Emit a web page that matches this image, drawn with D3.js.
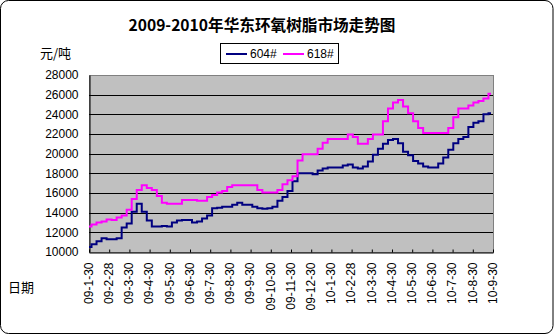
<!DOCTYPE html>
<html><head><meta charset="utf-8">
<script src="https://cdn.jsdelivr.net/npm/d3@7"></script>
<style>
body{margin:0;background:#fff;}
svg{display:block;}
text{font-family:"Liberation Sans","Noto Sans CJK SC",sans-serif;}
</style></head><body>
<svg id="c" width="554" height="335"></svg>
<script>
const title = "2009-2010年华东环氧树脂市场走势图";
const tickLabels = ["09-1-30","09-2-28","09-3-30","09-4-30","09-5-30","09-6-30","09-7-30","09-8-30","09-9-30","09-10-30","09-11-30","09-12-30","10-1-30","10-2-28","10-3-30","10-4-30","10-5-30","10-6-30","10-7-30","10-8-30","10-9-30"];
const yTicks = [10000,12000,14000,16000,18000,20000,22000,24000,26000,28000];
const seriesNames = ["604#","618#"];
// values every quarter month from 09-1-30 to 10-9-30
const s604 = [10500,10800,11100,11400,11300,11300,11400,12500,12900,14100,
  14900,14100,13200,12600,12600,12650,12600,13000,13200,13250,
  13250,13000,13100,13400,13700,14450,14500,14600,14600,14800,
  15000,14800,14800,14600,14450,14400,14450,14600,15200,15600,
  16200,17200,18000,18000,18000,17900,18300,18500,18600,18600,
  18600,18800,18900,18600,18500,18700,19200,19900,20500,21000,
  21400,21500,21050,20200,19850,19250,19000,18700,18600,18600,
  19000,19600,20400,21050,21500,21700,22700,23150,23300,24000,24100];
const s618 = [12600,12800,13000,13100,13300,13250,13500,13700,14300,15400,
  16300,16800,16500,16300,15700,15000,14900,14900,14900,15300,
  15300,15300,15200,15200,15600,15800,16050,16200,16600,16800,
  16800,16800,16800,16800,16300,16050,16050,16050,16300,16900,
  17300,17700,19300,19950,19950,19950,20500,21100,21500,21500,
  21500,21500,21950,21700,21000,21000,21500,21950,21950,23300,
  24600,25200,25450,24800,24100,23300,22600,22100,22100,22100,
  22100,22100,22600,23700,24600,24600,24900,25200,25350,25600,26100];
const colors = ["#000080","#ff00ff"];

const svg = d3.select("#c");
const L = 89, R = 493, T = 75, B = 252;
const x = d3.scaleLinear().domain([0, tickLabels.length - 1]).range([L, R]);
const y = d3.scaleLinear().domain([10000, 28000]).range([B, T]);

// outer frame
svg.append("rect").attr("x",0.5).attr("y",0.5).attr("width",552.5).attr("height",333)
  .attr("rx",8).attr("fill","#fff").attr("stroke","#000").attr("stroke-width",1);

svg.append("text").attr("x",262).attr("y",31).attr("text-anchor","middle")
  .attr("font-size",16).attr("font-weight","bold")
  .style("font-family","'Noto Sans CJK SC',sans-serif")
  .attr("textLength",267).attr("lengthAdjust","spacingAndGlyphs").text(title);

// plot area
svg.append("rect").attr("x",L).attr("y",T).attr("width",R-L).attr("height",B-T)
  .attr("fill","#c0c0c0").attr("stroke","#808080").attr("stroke-width",1)
  .attr("shape-rendering","crispEdges");

// gridlines
svg.append("g").selectAll("line").data(yTicks.slice(1,-1)).join("line")
  .attr("x1",L).attr("x2",R).attr("y1",d=>Math.round(y(d))+0.5).attr("y2",d=>Math.round(y(d))+0.5)
  .attr("stroke","#000").attr("stroke-width",1);

// y axis
const yAxis = svg.append("g").attr("transform",`translate(${L+0.5},0)`)
  .call(d3.axisLeft(y).tickValues(yTicks).tickSize(0).tickPadding(11).tickFormat(d3.format("d")));
yAxis.select(".domain").attr("stroke","#000");
yAxis.selectAll("text").attr("font-size",12).attr("fill","#000").style("font-family","'Liberation Sans',sans-serif");

// x axis
const xAxis = svg.append("g").attr("transform",`translate(0,${B+0.5})`)
  .call(d3.axisBottom(x).tickValues(d3.range(tickLabels.length)).tickSizeInner(-3).tickSizeOuter(0)
    .tickFormat(i=>tickLabels[i]));
xAxis.select(".domain").attr("stroke","#000");
xAxis.selectAll(".tick line").attr("stroke","#000");
xAxis.selectAll("text").attr("font-size",12).attr("fill","#000")
  .style("font-family","'Liberation Sans',sans-serif")
  .attr("text-anchor","end").attr("transform","rotate(-90)")
  .attr("x",-10).attr("y",-1).attr("dy","0.35em");

// lines
const step = 0.25;
const line = d3.line().x((d,i)=>x(i*step)*0.995+L*0.005).y(d=>y(d)).curve(d3.curveStep);
[s604, s618].forEach((s,j)=>{
  svg.append("path").datum(s).attr("d",line).attr("fill","none")
    .attr("stroke",colors[j]).attr("stroke-width",2).attr("stroke-linejoin","miter");
});

// legend
const lg = svg.append("g");
lg.append("rect").attr("x",220.5).attr("y",43.5).attr("width",118).attr("height",20)
  .attr("fill","#fff").attr("stroke","#000");
const lx = [226, 283];
seriesNames.forEach((n,j)=>{
  lg.append("line").attr("x1",lx[j]).attr("x2",lx[j]+21).attr("y1",54).attr("y2",54)
    .attr("stroke",colors[j]).attr("stroke-width",2);
  lg.append("text").attr("x",lx[j]+24).attr("y",58).attr("font-size",12).text(n);
});

// axis titles
svg.append("text").attr("x",40).attr("y",58).attr("font-size",13)
  .style("font-family","'Noto Sans CJK SC',sans-serif").text("元/吨");
svg.append("text").attr("x",8).attr("y",292).attr("font-size",13)
  .style("font-family","'Noto Sans CJK SC',sans-serif").text("日期");
</script>
</body></html>
